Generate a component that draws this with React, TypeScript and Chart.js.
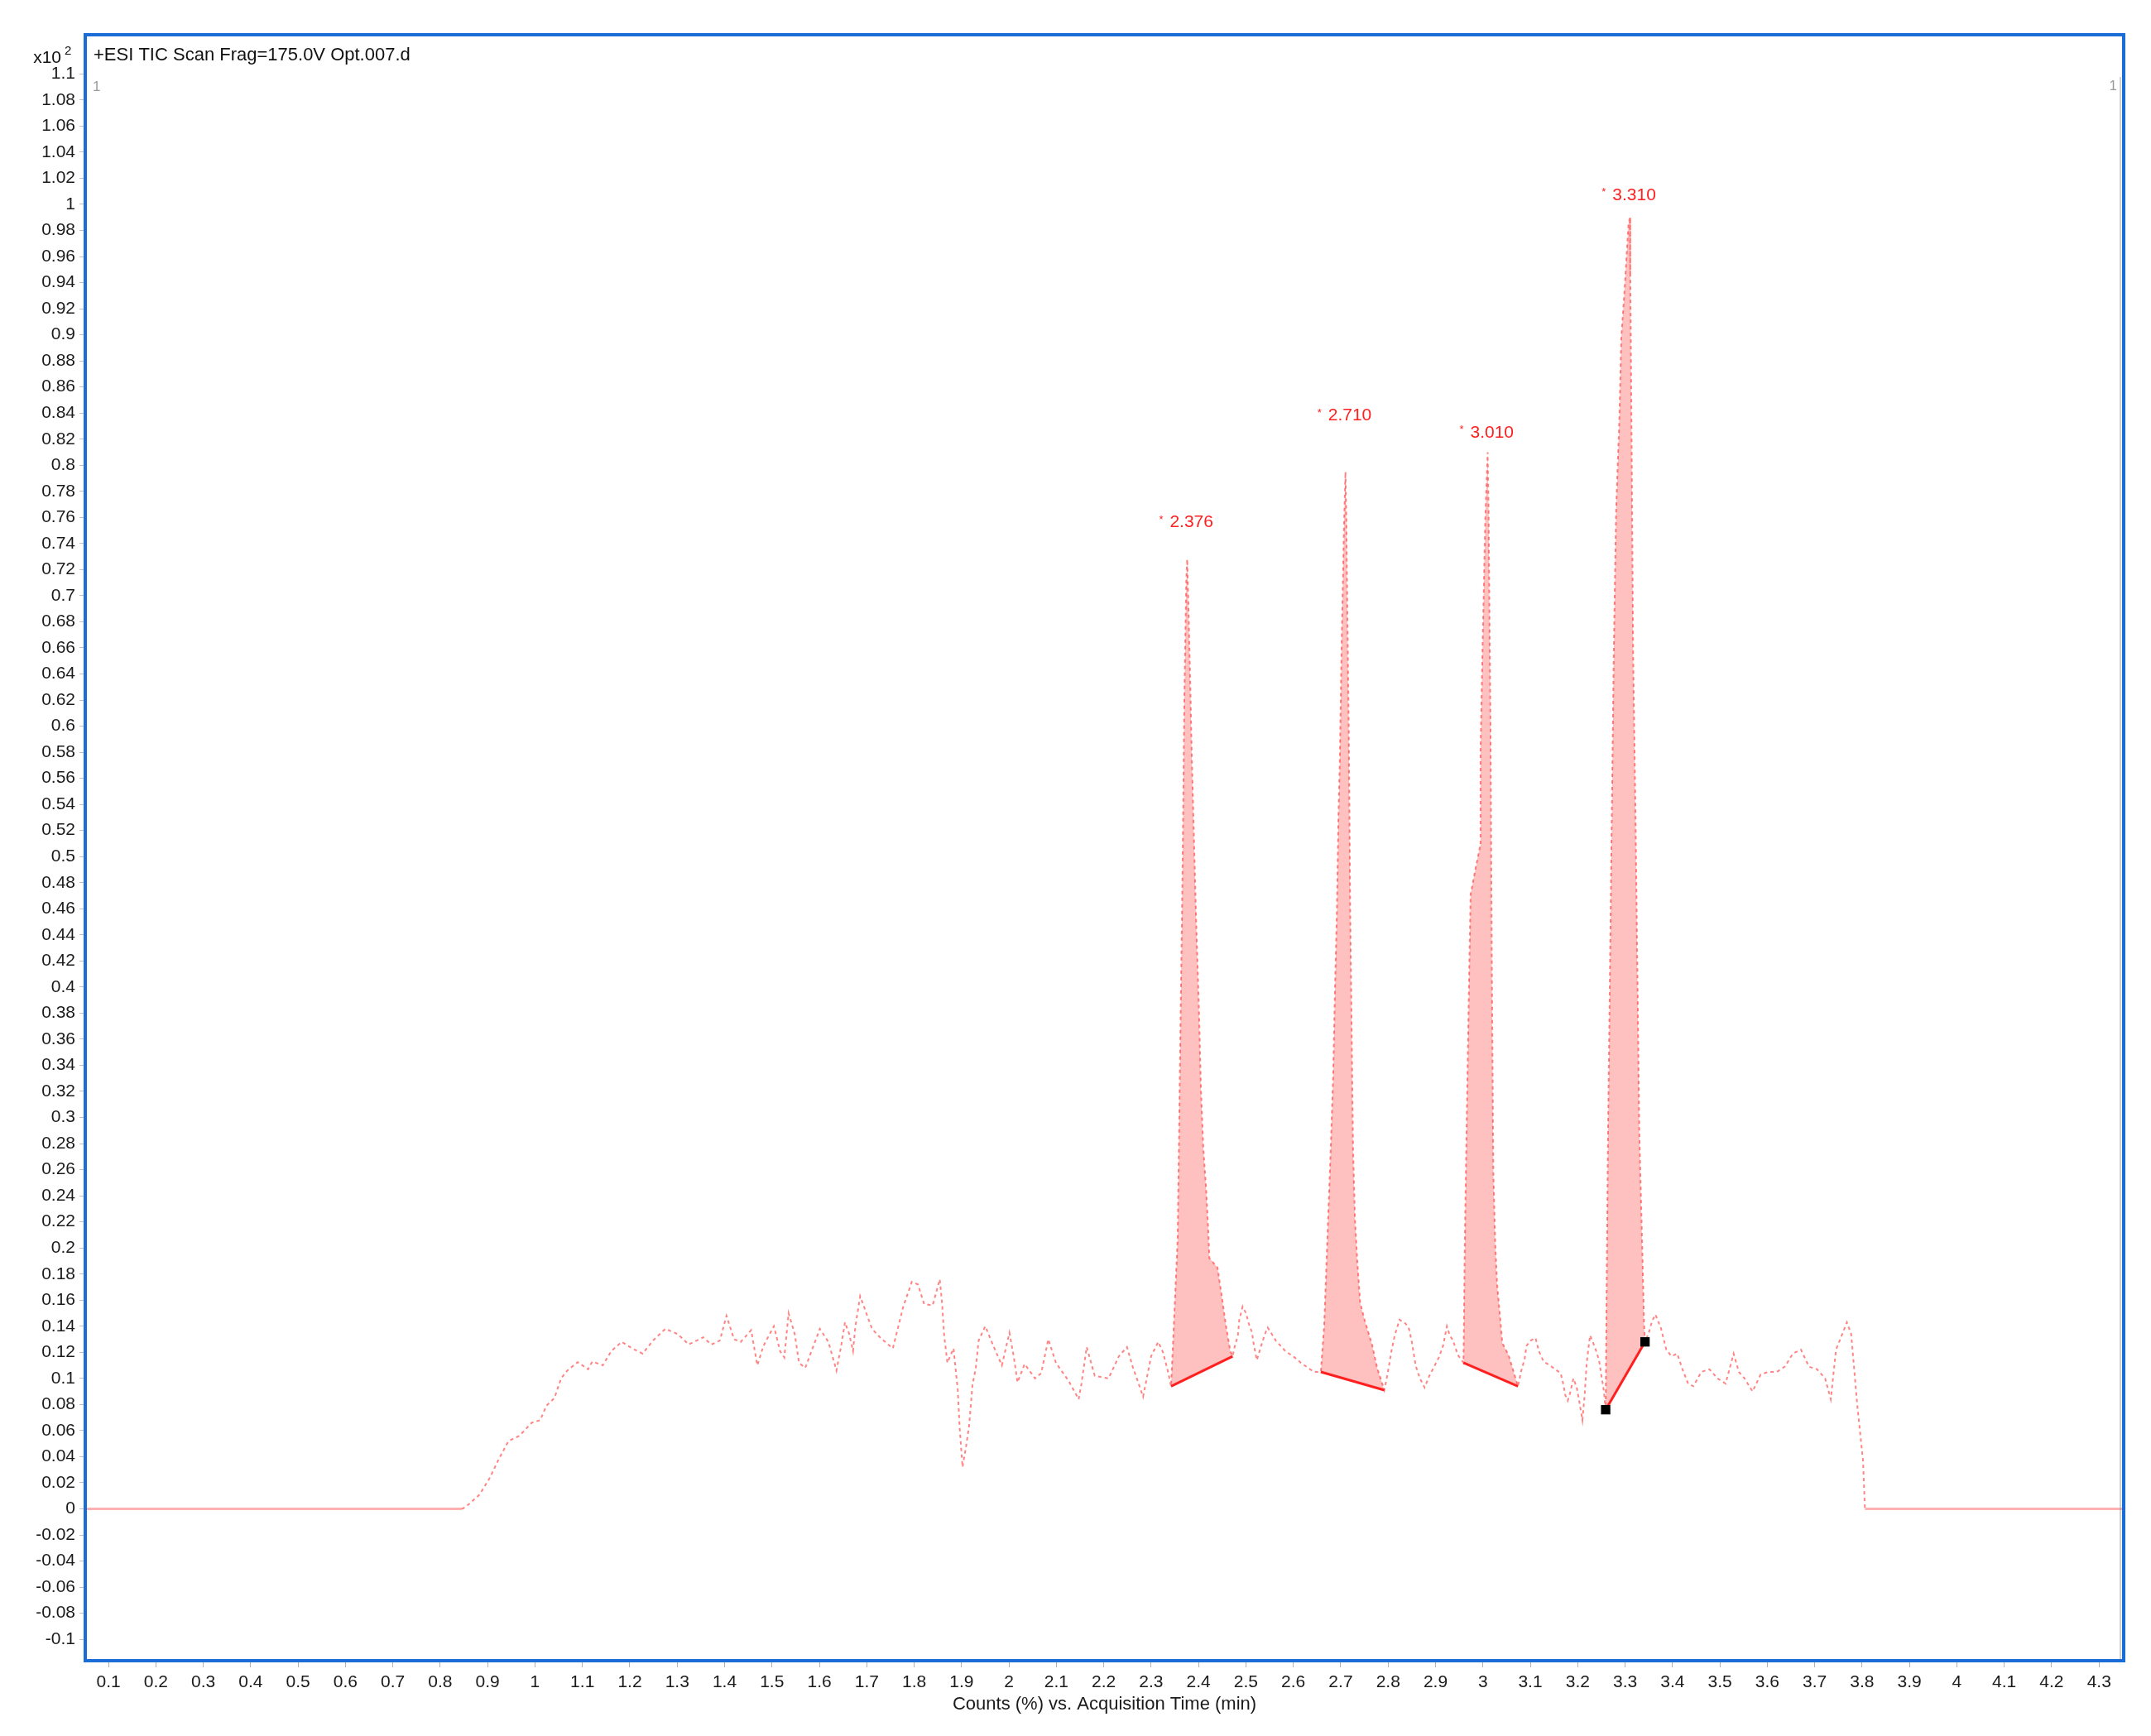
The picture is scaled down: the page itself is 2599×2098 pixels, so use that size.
import { useEffect, useRef } from "react";
import { Chart, registerables } from "chart.js";

Chart.register(...registerables);

const CANVAS_W = 2599;
const CANVAS_H = 2098;
const FONT = "'Liberation Sans', Arial, sans-serif";

// Acquisition time (min)
const ticTime = [
  0.051, 0.845, 0.852, 0.865, 0.883, 0.905, 0.922, 0.944, 0.967, 0.993, 1.011, 1.024, 1.041, 1.055, 1.068,
  1.09, 1.112, 1.121, 1.143, 1.161, 1.183, 1.205, 1.227, 1.249, 1.275, 1.301, 1.324, 1.355, 1.372, 1.39,
  1.404, 1.42, 1.434, 1.456, 1.469, 1.482, 1.504, 1.517, 1.526, 1.535, 1.548, 1.557, 1.57, 1.601, 1.619,
  1.636, 1.645, 1.654, 1.663, 1.671, 1.676, 1.686, 1.711, 1.729, 1.755, 1.777, 1.795, 1.808, 1.821, 1.839,
  1.845, 1.854, 1.859, 1.863, 1.87, 1.883, 1.892, 1.896, 1.902, 1.91, 1.916, 1.923, 1.93, 1.936, 1.95,
  1.967, 1.985, 2.001, 2.01, 2.018, 2.033, 2.055, 2.068, 2.083, 2.099, 2.126, 2.147, 2.153, 2.164, 2.181,
  2.21, 2.232, 2.249, 2.261, 2.283, 2.3, 2.315, 2.325, 2.335,
  // peak 1
  2.342, 2.35, 2.356, 2.361, 2.366, 2.37, 2.374, 2.376, 2.379, 2.382, 2.386, 2.391, 2.395, 2.401, 2.405,
  2.41, 2.416, 2.42, 2.423, 2.44, 2.449, 2.458, 2.467, 2.472,
  2.476, 2.483, 2.486, 2.493, 2.5, 2.506, 2.513, 2.516, 2.523, 2.528, 2.533, 2.54, 2.546, 2.563, 2.583,
  2.603, 2.616, 2.643,
  // peak 2
  2.658, 2.665, 2.672, 2.678, 2.684, 2.688, 2.692, 2.695, 2.698, 2.702, 2.707, 2.71, 2.712, 2.714, 2.717,
  2.72, 2.723, 2.726, 2.73, 2.735, 2.741, 2.751, 2.766, 2.777, 2.792,
  2.797, 2.802, 2.807, 2.814, 2.824, 2.837, 2.844, 2.85, 2.858, 2.867, 2.877, 2.887, 2.897, 2.907, 2.916,
  2.924, 2.93, 2.937, 2.947,
  // peak 3
  2.959, 2.962, 2.966, 2.971, 2.974, 2.984, 2.994, 2.995, 3.0, 3.005, 3.01, 3.012, 3.014, 3.016, 3.019,
  3.022, 3.026, 3.03, 3.036, 3.041, 3.054, 3.074,
  3.081, 3.088, 3.092, 3.101, 3.111, 3.118, 3.128, 3.141, 3.164, 3.17, 3.174, 3.179, 3.184, 3.191, 3.198,
  3.203, 3.21, 3.215, 3.219, 3.226, 3.233, 3.239, 3.245, 3.25, 3.255,
  // peak 4
  3.259, 3.261, 3.264, 3.268, 3.272, 3.276, 3.281, 3.288, 3.292, 3.299, 3.307, 3.31, 3.311, 3.314, 3.317,
  3.322, 3.326, 3.33, 3.336, 3.34, 3.342,
  3.35, 3.357, 3.364, 3.376, 3.387, 3.398, 3.41, 3.421, 3.433, 3.444, 3.461, 3.478, 3.495, 3.512, 3.529,
  3.54, 3.552, 3.569, 3.586, 3.603, 3.62, 3.637, 3.654, 3.671, 3.688, 3.705, 3.722, 3.734, 3.745, 3.756,
  3.768, 3.777, 3.781, 3.79, 3.796, 3.802, 3.806, 4.352,
];

// Counts (x10^2, %)
const ticCounts = [
  0, 0, 0.001, 0.005, 0.011, 0.024, 0.037, 0.052, 0.056, 0.066, 0.068, 0.079, 0.085, 0.1, 0.106,
  0.1125, 0.107, 0.113, 0.11, 0.121, 0.128, 0.123, 0.119, 0.129, 0.138, 0.134, 0.126, 0.1315, 0.126, 0.129,
  0.148, 0.13, 0.128, 0.137, 0.11, 0.125, 0.14, 0.121, 0.116, 0.15, 0.134, 0.112, 0.108, 0.138, 0.128,
  0.106, 0.123, 0.143, 0.134, 0.121, 0.14, 0.163, 0.138, 0.131, 0.123, 0.155, 0.174, 0.172, 0.157, 0.156,
  0.164, 0.176, 0.157, 0.134, 0.112, 0.123, 0.091, 0.062, 0.032, 0.049, 0.064, 0.095, 0.108, 0.129, 0.14,
  0.125, 0.11, 0.135, 0.117, 0.097, 0.111, 0.1, 0.104, 0.13, 0.112, 0.098, 0.084, 0.096, 0.124, 0.102,
  0.1, 0.117, 0.124, 0.109, 0.086, 0.117, 0.128, 0.12, 0.106,
  0.094, 0.158, 0.208, 0.345, 0.482, 0.619, 0.71, 0.728, 0.687, 0.641, 0.573, 0.505, 0.45, 0.381, 0.322,
  0.277, 0.245, 0.217, 0.192, 0.185, 0.163, 0.14, 0.121, 0.117,
  0.124, 0.133, 0.145, 0.155, 0.15, 0.142, 0.135, 0.127, 0.114, 0.12, 0.126, 0.134, 0.139, 0.129, 0.121,
  0.116, 0.112, 0.105,
  0.105, 0.14, 0.208, 0.267, 0.331, 0.4, 0.459, 0.527, 0.573, 0.664, 0.755, 0.795, 0.755, 0.687, 0.596,
  0.459, 0.368, 0.277, 0.222, 0.19, 0.158, 0.144, 0.126, 0.108, 0.091,
  0.1, 0.11, 0.121, 0.133, 0.145, 0.142, 0.138, 0.128, 0.11, 0.1, 0.093, 0.102, 0.109, 0.116, 0.125,
  0.14, 0.133, 0.129, 0.118,
  0.112, 0.209, 0.3, 0.41, 0.471, 0.49, 0.508, 0.581, 0.673, 0.758, 0.81, 0.764, 0.679, 0.6, 0.41,
  0.258, 0.203, 0.172, 0.148, 0.127, 0.118, 0.094,
  0.106, 0.115, 0.125, 0.129, 0.131, 0.121, 0.113, 0.11, 0.104, 0.095, 0.087, 0.083, 0.089, 0.1, 0.093,
  0.083, 0.068, 0.089, 0.112, 0.133, 0.127, 0.121, 0.114, 0.102, 0.091,
  0.076, 0.166, 0.288, 0.41, 0.532, 0.654, 0.764, 0.837, 0.898, 0.935, 0.984, 0.99, 0.947, 0.807, 0.654,
  0.532, 0.41, 0.288, 0.203, 0.142, 0.128,
  0.135, 0.144, 0.149, 0.138, 0.122, 0.117, 0.119, 0.107, 0.096, 0.094, 0.105, 0.107, 0.1, 0.096, 0.119,
  0.105, 0.1, 0.09, 0.103, 0.105, 0.105, 0.109, 0.119, 0.122, 0.109, 0.107, 0.1, 0.084, 0.122, 0.132,
  0.143, 0.134, 0.117, 0.079, 0.058, 0.037, 0, 0,
];

// Integrated peaks
const peakApexTimes = [2.376, 2.71, 3.01, 3.31];
const peakLabels = ["2.376", "2.710", "3.010", "3.310"];
const peakLabelLevels = [0.756, 0.838, 0.825, 1.007];
const peakStartTimes = [2.342, 2.658, 2.959, 3.259];
const peakEndTimes = [2.472, 2.792, 3.074, 3.342];

// Manual-integration handles (black squares)
const markerTimes = [3.259, 3.342];

const xTickValues = [
  0.1, 0.2, 0.3, 0.4, 0.5, 0.6, 0.7, 0.8, 0.9, 1, 1.1, 1.2, 1.3, 1.4, 1.5, 1.6, 1.7, 1.8, 1.9, 2, 2.1,
  2.2, 2.3, 2.4, 2.5, 2.6, 2.7, 2.8, 2.9, 3, 3.1, 3.2, 3.3, 3.4, 3.5, 3.6, 3.7, 3.8, 3.9, 4, 4.1, 4.2, 4.3,
];
const yTickValues = [
  -0.1, -0.08, -0.06, -0.04, -0.02, 0, 0.02, 0.04, 0.06, 0.08, 0.1, 0.12, 0.14, 0.16, 0.18, 0.2, 0.22,
  0.24, 0.26, 0.28, 0.3, 0.32, 0.34, 0.36, 0.38, 0.4, 0.42, 0.44, 0.46, 0.48, 0.5, 0.52, 0.54, 0.56, 0.58,
  0.6, 0.62, 0.64, 0.66, 0.68, 0.7, 0.72, 0.74, 0.76, 0.78, 0.8, 0.82, 0.84, 0.86, 0.88, 0.9, 0.92, 0.94,
  0.96, 0.98, 1, 1.02, 1.04, 1.06, 1.08, 1.1,
];

const X_MIN = 0.051;
const X_MAX = 4.352;
const Y_MIN = -0.1164;
const Y_MAX = 1.13;

const chartTitle = "+ESI TIC Scan Frag=175.0V Opt.007.d";
const xAxisTitle = "Counts (%) vs. Acquisition Time (min)";

export default function App() {
  const canvasRef = useRef<HTMLCanvasElement | null>(null);

  useEffect(() => {
    const canvas = canvasRef.current;
    if (!canvas) return;

    const trace = ticTime.map((t, i) => ({ x: t, y: ticCounts[i] }));
    const valueAt = (t: number) => ticCounts[ticTime.indexOf(t)];

    const fillSets = peakStartTimes.map((s, i) => ({
      type: "line" as const,
      data: trace.filter((p) => p.x >= s && p.x <= peakEndTimes[i]),
      fill: "shape",
      backgroundColor: "#ffc0c0",
      borderWidth: 0,
      pointRadius: 0,
      order: 5,
    }));

    const baselineSets = peakStartTimes.map((s, i) => ({
      type: "line" as const,
      data: [
        { x: s, y: valueAt(s) },
        { x: peakEndTimes[i], y: valueAt(peakEndTimes[i]) },
      ],
      borderColor: "#ff1f1f",
      borderWidth: 3,
      pointRadius: 0,
      fill: false,
      order: 2,
    }));

    const isFlat = (ctx: any) => ctx.p0.parsed.y === 0 && ctx.p1.parsed.y === 0;

    const traceSet = {
      type: "line" as const,
      data: trace,
      borderColor: "rgba(255,50,50,0.6)",
      borderWidth: 2,
      pointRadius: 0,
      fill: false,
      tension: 0,
      order: 3,
      segment: {
        borderDash: (ctx: any) => (isFlat(ctx) ? [] : [4, 4]),
        borderColor: (ctx: any) => (isFlat(ctx) ? "rgba(255,150,150,0.75)" : "rgba(255,50,50,0.6)"),
        borderWidth: (ctx: any) => (isFlat(ctx) ? 3 : 2),
      },
    };

    const markerSet = {
      type: "line" as const,
      data: markerTimes.map((t) => ({ x: t, y: valueAt(t) })),
      showLine: false,
      pointStyle: "rect",
      pointRadius: 8,
      pointBackgroundColor: "#000",
      pointBorderColor: "#000",
      pointBorderWidth: 0,
      order: 1,
    };

    const decorPlugin = {
      id: "decor",
      afterDatasetsDraw(chart: any) {
        const { ctx, scales } = chart;
        const xs = scales.x;
        const ys = scales.y;
        ctx.save();
        ctx.fillStyle = "#ff2020";
        peakApexTimes.forEach((t, i) => {
          const px = xs.getPixelForValue(t);
          const py = ys.getPixelForValue(peakLabelLevels[i]);
          ctx.textBaseline = "middle";
          ctx.textAlign = "left";
          ctx.font = `21px ${FONT}`;
          ctx.fillText(peakLabels[i], px - 21, py);
          ctx.font = `13px ${FONT}`;
          ctx.fillText("*", px - 34, py - 3);
        });
        ctx.restore();
      },
      afterDraw(chart: any) {
        const { ctx, chartArea } = chart;
        const { left, right, top, bottom } = chartArea;
        ctx.save();
        // faint inner line on the right
        ctx.strokeStyle = "rgba(150,150,150,0.6)";
        ctx.lineWidth = 1.5;
        ctx.beginPath();
        ctx.moveTo(right - 4, 93);
        ctx.lineTo(right - 4, bottom);
        ctx.stroke();
        // frame
        ctx.strokeStyle = "#1a6dd6";
        ctx.lineWidth = 4;
        ctx.strokeRect(left, top, right - left, bottom - top);
        // title
        ctx.fillStyle = "#111";
        ctx.textBaseline = "middle";
        ctx.textAlign = "left";
        ctx.font = `22px ${FONT}`;
        ctx.fillText(chartTitle, left + 10, top + 25);
        // x10^2
        ctx.font = `21px ${FONT}`;
        ctx.textAlign = "right";
        ctx.fillText("x10", left - 29, top + 28);
        ctx.font = `15px ${FONT}`;
        ctx.textAlign = "left";
        ctx.fillText("2", left - 25, top + 20);
        // gray "1" markers
        ctx.fillStyle = "#9a9a9a";
        ctx.font = `17px ${FONT}`;
        ctx.fillText("1", left + 9, top + 63);
        ctx.textAlign = "right";
        ctx.fillText("1", right - 8, top + 62);
        ctx.restore();
      },
    };

    const chart = new Chart(canvas, {
      type: "line",
      data: {
        datasets: [...fillSets, traceSet, ...baselineSets, markerSet] as any,
      },
      options: {
        responsive: false,
        animation: false,
        events: [],
        layout: { padding: { left: 13, right: 33, top: 42, bottom: 25 } },
        plugins: {
          legend: { display: false },
          tooltip: { enabled: false },
          title: { display: false },
        },
        scales: {
          x: {
            type: "linear",
            min: X_MIN,
            max: X_MAX,
            afterBuildTicks: (s: any) => {
              s.ticks = xTickValues.map((v) => ({ value: v }));
            },
            afterFit: (s: any) => {
              s.height = 66;
            },
            grid: { drawOnChartArea: false, drawTicks: true, tickLength: 8, color: "rgba(0,0,0,0.3)" },
            border: { display: false },
            ticks: {
              autoSkip: false,
              maxRotation: 0,
              minRotation: 0,
              padding: 6,
              color: "#1a1a1a",
              font: { family: FONT, size: 21 },
              callback: (v: any) => String(Math.round(Number(v) * 10) / 10),
            },
            title: {
              display: true,
              text: xAxisTitle,
              color: "#1a1a1a",
              font: { family: FONT, size: 22 },
              padding: { top: 0, bottom: 0 },
            },
          },
          y: {
            type: "linear",
            min: Y_MIN,
            max: Y_MAX,
            afterBuildTicks: (s: any) => {
              s.ticks = yTickValues.map((v) => ({ value: v }));
            },
            afterFit: (s: any) => {
              s.width = 90;
            },
            grid: { drawOnChartArea: false, drawTicks: true, tickLength: 7, color: "rgba(0,0,0,0.25)" },
            border: { display: false },
            ticks: {
              autoSkip: false,
              padding: 5,
              color: "#1a1a1a",
              font: { family: FONT, size: 21 },
              callback: (v: any) => String(Math.round(Number(v) * 100) / 100),
            },
          },
        },
      } as any,
      plugins: [decorPlugin],
    });

    return () => chart.destroy();
  }, []);

  return (
    <div style={{ position: "absolute", left: 0, top: 0, width: CANVAS_W, height: CANVAS_H, background: "#fff" }}>
      <canvas ref={canvasRef} width={CANVAS_W} height={CANVAS_H} style={{ display: "block" }} />
    </div>
  );
}
